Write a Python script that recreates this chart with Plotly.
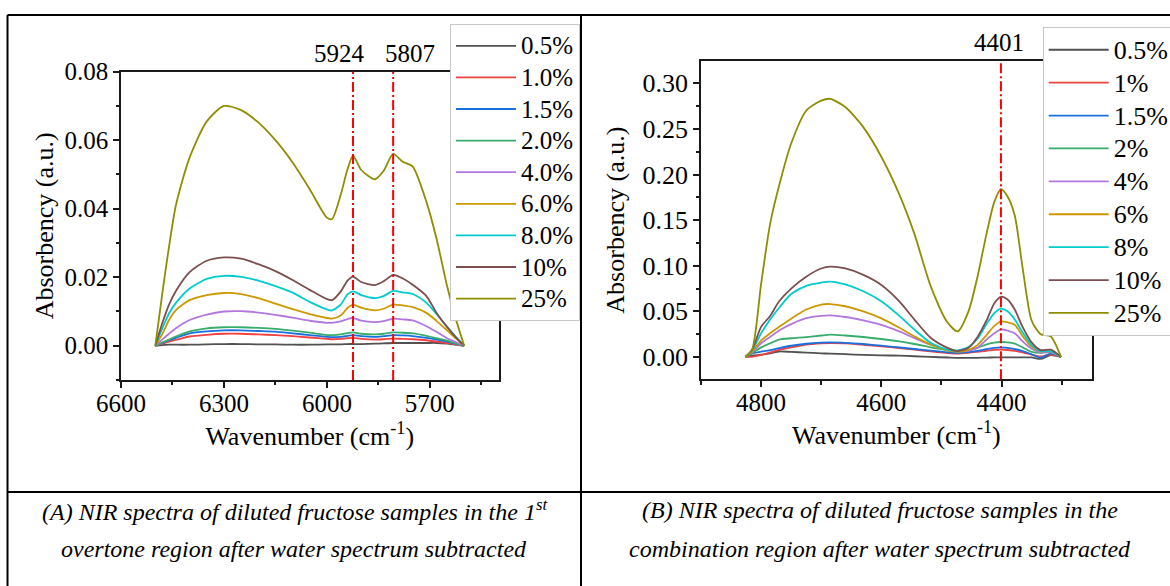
import plotly.graph_objects as go

W, H = 1170, 586
FONT = "Liberation Serif, Times New Roman, serif"

# ---------------- data ----------------
colors = ["#515151", "#F14040", "#1A6FDF", "#37AD6B", "#B177DE",
          "#CC9900", "#00CBCC", "#7D4E4E", "#8E8E00"]

labels_a = ["0.5%", "1.0%", "1.5%", "2.0%", "4.0%", "6.0%", "8.0%", "10%", "25%"]
labels_b = ["0.5%", "1%", "1.5%", "2%", "4%", "6%", "8%", "10%", "25%"]

# Panel A: 1st overtone region
wn_a = [6500, 6480, 6460, 6440, 6400, 6350, 6300, 6250, 6200, 6150, 6100, 6050, 6000,
        5985, 5960, 5940, 5924, 5900, 5860, 5835, 5807, 5780, 5750, 5710, 5680, 5650,
        5625, 5600]
a_05 = [0, 0.0002, 0.0003, 0.0003, 0.0003, 0.0004, 0.0005, 0.0005, 0.0004, 0.0004, 0.0003,
        0.0003, 0.0004, 0.0004, 0.0004, 0.0005, 0.0005, 0.0005, 0.0006, 0.0007, 0.0008,
        0.0008, 0.0008, 0.0008, 0.0008, 0.0006, 0.0003, 0]
a_10 = [0, 0.0006, 0.0012, 0.0017, 0.0027, 0.0032, 0.0035, 0.0035, 0.0033, 0.0031, 0.0028,
        0.0024, 0.0020, 0.0019, 0.0020, 0.0022, 0.0023, 0.0020, 0.0018, 0.0019, 0.0021,
        0.0020, 0.0019, 0.0016, 0.0012, 0.0008, 0.0004, 0]
a_15 = [0, 0.0008, 0.0016, 0.0023, 0.0036, 0.0042, 0.0045, 0.0045, 0.0043, 0.0041, 0.0036,
        0.0031, 0.0026, 0.0025, 0.0026, 0.0029, 0.0031, 0.0028, 0.0026, 0.0028, 0.0031,
        0.0030, 0.0028, 0.0023, 0.0018, 0.0012, 0.0006, 0]
a_20 = [0, 0.0009, 0.0018, 0.0027, 0.0042, 0.0051, 0.0054, 0.0054, 0.0052, 0.0049, 0.0044,
        0.0038, 0.0031, 0.0031, 0.0033, 0.0037, 0.0039, 0.0035, 0.0033, 0.0035, 0.0039,
        0.0038, 0.0036, 0.0029, 0.0022, 0.0015, 0.0007, 0]
a_40 = [0, 0.0018, 0.0035, 0.0051, 0.0075, 0.0091, 0.0100, 0.0101, 0.0097, 0.0090, 0.0082,
        0.0073, 0.0067, 0.0067, 0.0071, 0.0078, 0.0081, 0.0073, 0.0069, 0.0072, 0.0079,
        0.0077, 0.0074, 0.0057, 0.0040, 0.0022, 0.0011, 0]
a_60 = [0, 0.0033, 0.0075, 0.0104, 0.0133, 0.0148, 0.0154, 0.0151, 0.0139, 0.0123, 0.0107,
        0.0092, 0.0081, 0.0079, 0.0088, 0.0110, 0.0120, 0.0111, 0.0103, 0.0108, 0.0120,
        0.0118, 0.0113, 0.0096, 0.0072, 0.0045, 0.0022, 0]
a_80 = [0, 0.0050, 0.0095, 0.0125, 0.0167, 0.0195, 0.0204, 0.0201, 0.0190, 0.0174, 0.0155,
        0.0128, 0.0106, 0.0103, 0.0120, 0.0150, 0.0159, 0.0148, 0.0139, 0.0145, 0.0160,
        0.0156, 0.0151, 0.0125, 0.0092, 0.0055, 0.0027, 0]
a_100 = [0, 0.0065, 0.0120, 0.0160, 0.0215, 0.0248, 0.0258, 0.0254, 0.0238, 0.0218, 0.0192,
         0.0163, 0.0136, 0.0133, 0.0158, 0.0190, 0.0202, 0.0186, 0.0177, 0.0188, 0.0207,
         0.0197, 0.0178, 0.0145, 0.0095, 0.0055, 0.0025, 0]
a_250 = [0, 0.0150, 0.0290, 0.0410, 0.0550, 0.0655, 0.0700, 0.0688, 0.0652, 0.0600, 0.0535,
         0.0457, 0.0374, 0.0370, 0.0440, 0.0515, 0.0555, 0.0513, 0.0486, 0.0510, 0.0560,
         0.0538, 0.0523, 0.0420, 0.0310, 0.0175, 0.0080, 0]
series_a = [a_05, a_10, a_15, a_20, a_40, a_60, a_80, a_100, a_250]

# Panel B: combination region
wn_b = [4826, 4815, 4800, 4785, 4770, 4750, 4725, 4700, 4685, 4660, 4630, 4600, 4570, 4545,
        4518, 4490, 4473, 4455, 4440, 4425, 4412, 4401, 4390, 4378, 4365, 4350, 4335, 4318,
        4301]
b_05 = [0, 0.0015, 0.0025, 0.0040, 0.0060, 0.0055, 0.0048, 0.0040, 0.0036, 0.0030, 0.0022,
        0.0018, 0.0014, 0.0008, 0.0000, -0.0006, -0.0010, -0.0010, -0.0009, -0.0007, -0.0005,
        -0.0004, -0.0004, -0.0004, -0.0004, -0.0005, -0.0022, 0.0020, 0]
b_10 = [0, 0.0002, 0.0022, 0.0050, 0.0078, 0.0104, 0.0135, 0.0150, 0.0153, 0.0148, 0.0132,
        0.0117, 0.0098, 0.0080, 0.0062, 0.0043, 0.0036, 0.0045, 0.0056, 0.0068, 0.0077,
        0.0080, 0.0076, 0.0068, 0.0050, 0.0025, 0.0005, 0.0025, 0]
b_15 = [0, 0.0040, 0.0058, 0.0075, 0.0097, 0.0123, 0.0145, 0.0157, 0.0160, 0.0155, 0.0142,
        0.0124, 0.0104, 0.0087, 0.0069, 0.0051, 0.0045, 0.0052, 0.0066, 0.0085, 0.0099,
        0.0105, 0.0100, 0.0087, 0.0065, 0.0030, -0.0010, 0.0040, 0]
b_20 = [0, 0.0040, 0.0105, 0.0150, 0.0190, 0.0205, 0.0218, 0.0235, 0.0244, 0.0235, 0.0219,
        0.0197, 0.0170, 0.0142, 0.0105, 0.0073, 0.0056, 0.0072, 0.0100, 0.0138, 0.0157,
        0.0164, 0.0160, 0.0146, 0.0105, 0.0055, 0.0045, 0.0055, 0]
b_40 = [0, 0.0050, 0.0150, 0.0220, 0.0290, 0.0360, 0.0425, 0.0450, 0.0455, 0.0438, 0.0401,
        0.0352, 0.0280, 0.0207, 0.0135, 0.0080, 0.0062, 0.0068, 0.0100, 0.0190, 0.0260,
        0.0300, 0.0290, 0.0260, 0.0170, 0.0090, 0.0050, 0.0050, 0]
b_60 = [0, 0.0060, 0.0180, 0.0260, 0.0330, 0.0420, 0.0520, 0.0575, 0.0580, 0.0556, 0.0500,
        0.0423, 0.0320, 0.0226, 0.0135, 0.0073, 0.0058, 0.0078, 0.0130, 0.0240, 0.0340,
        0.0390, 0.0380, 0.0353, 0.0230, 0.0110, 0.0060, 0.0060, 0]
b_80 = [0, 0.0070, 0.0260, 0.0410, 0.0540, 0.0690, 0.0780, 0.0815, 0.0827, 0.0795, 0.0720,
        0.0610, 0.0450, 0.0300, 0.0155, 0.0080, 0.0073, 0.0110, 0.0200, 0.0360, 0.0480,
        0.0530, 0.0500, 0.0410, 0.0270, 0.0130, 0.0065, 0.0060, 0]
b_100 = [0, 0.0080, 0.0330, 0.0450, 0.0610, 0.0750, 0.0880, 0.0970, 0.0990, 0.0970, 0.0900,
         0.0790, 0.0610, 0.0410, 0.0210, 0.0100, 0.0065, 0.0100, 0.0220, 0.0400, 0.0590,
         0.0660, 0.0630, 0.0520, 0.0330, 0.0160, 0.0075, 0.0080, 0]
b_250 = [0, 0.0080, 0.0800, 0.1460, 0.1880, 0.2340, 0.2700, 0.2810, 0.2830, 0.2740, 0.2520,
         0.2195, 0.1780, 0.1350, 0.0780, 0.0380, 0.0280, 0.0500, 0.0880, 0.1350, 0.1700,
         0.1840, 0.1760, 0.1550, 0.0980, 0.0400, 0.0250, 0.0225, 0]
series_b = [b_05, b_10, b_15, b_20, b_40, b_60, b_80, b_100, b_250]

peaks_a = [5924, 5807]
peaks_b = [4401]

xticks_a = [6600, 6300, 6000, 5700]
xminor_a = [6450, 6150, 5850, 5550]
yticks_a = [0.0, 0.02, 0.04, 0.06, 0.08]
yminor_a = [-0.01, 0.01, 0.03, 0.05, 0.07]
xticks_b = [4800, 4600, 4400]
xminor_b = [4900, 4700, 4500, 4300]
yticks_b = [0.0, 0.05, 0.10, 0.15, 0.20, 0.25, 0.30]
yminor_b = [0.025, 0.075, 0.125, 0.175, 0.225, 0.275]

caption_a = ["(A) NIR spectra of diluted fructose samples in the 1<sup>st</sup>",
             "overtone region after water spectrum subtracted"]
caption_b = ["(B) NIR spectra of diluted fructose samples in the",
             "combination region after water spectrum subtracted"]

# ---------------- helpers ----------------
def fx(px):
    return px / W

def fy(py):
    return 1 - py / H

fig = go.Figure()

for lab, col, ys in zip(labels_a, colors, series_a):
    fig.add_trace(go.Scatter(
        x=wn_a, y=ys, mode="lines", xaxis="x", yaxis="y", legend="legend",
        name=f"<span style='font-size:25px'>{lab}</span>",
        line=dict(color=col, width=1.8, shape="spline", smoothing=0.7)))

for lab, col, ys in zip(labels_b, colors, series_b):
    fig.add_trace(go.Scatter(
        x=wn_b, y=ys, mode="lines", xaxis="x2", yaxis="y2", legend="legend2",
        name=f"<span style='font-size:26px'>{lab}</span>",
        line=dict(color=col, width=1.8, shape="spline", smoothing=0.7)))

axis_common = dict(showgrid=False, zeroline=False, showline=True, linecolor="#1a1a1a",
                   linewidth=1.5, mirror=True, ticks="outside", tickcolor="#1a1a1a",
                   tickwidth=1.5, ticklen=6, tickfont=dict(family=FONT, size=25, color="black"))

def xaxis(domain, rng, tv, mv, anchor):
    d = dict(axis_common)
    d.update(domain=domain, range=rng, tickmode="array", tickvals=tv, anchor=anchor,
             ticktext=[str(v) for v in tv], ticklabelstandoff=-6,
             minor=dict(tickmode="array", tickvals=mv, ticks="outside", ticklen=3.5,
                        tickwidth=1.5, tickcolor="#1a1a1a"),
             title=dict(text="Wavenumber (cm<sup>-1</sup>)",
                        font=dict(family=FONT, size=26, color="black"), standoff=11))
    return d

def yaxis(domain, rng, tv, mv, anchor, size, standoff):
    d = dict(axis_common)
    d.update(domain=domain, range=rng, tickmode="array", tickvals=tv, anchor=anchor,
             ticktext=[f"{v:.2f}" for v in tv],
             tickfont=dict(family=FONT, size=size, color="black"),
             minor=dict(tickmode="array", tickvals=mv, ticks="outside", ticklen=3,
                        tickwidth=1.5, tickcolor="#1a1a1a"),
             title=dict(text="Absorbency (a.u.)",
                        font=dict(family=FONT, size=26, color="black"), standoff=standoff))
    return d

legend_common = dict(bgcolor="white", bordercolor="#c8c8c8", borderwidth=1,
                     xanchor="left", yanchor="top", itemwidth=60, tracegroupgap=0)

shapes = []
for p in peaks_a:
    shapes.append(dict(type="line", xref="x", yref="y domain", x0=p, x1=p, y0=0, y1=1,
                       line=dict(color="#ff0000", width=2, dash="10px,3px,2px,3px")))
for p in peaks_b:
    shapes.append(dict(type="line", xref="x2", yref="y2 domain", x0=p, x1=p, y0=0, y1=1,
                       line=dict(color="#ff0000", width=2, dash="10px,3px,2px,3px")))

# table borders
border = dict(color="black", width=2)
shapes += [
    dict(type="line", xref="paper", yref="paper", x0=fx(7.5), x1=1, y0=fy(15), y1=fy(15), line=border),
    dict(type="line", xref="paper", yref="paper", x0=fx(7.5), x1=fx(7.5), y0=fy(15), y1=0, line=border),
    dict(type="line", xref="paper", yref="paper", x0=fx(581), x1=fx(581), y0=fy(15), y1=0, line=border),
    dict(type="line", xref="paper", yref="paper", x0=fx(7.5), x1=1, y0=fy(492), y1=fy(492), line=border),
]

annotations = []
for p, sh in zip(peaks_a, [-13, 17]):
    annotations.append(dict(x=p, y=fy(53), xref="x", yref="paper", text=str(p), showarrow=False,
                            xshift=sh, font=dict(family=FONT, size=25, color="black"),
                            xanchor="center", yanchor="middle"))
for p in peaks_b:
    annotations.append(dict(x=p, y=fy(43), xref="x2", yref="paper", text=str(p), showarrow=False,
                            xshift=-2, font=dict(family=FONT, size=25, color="black"),
                            xanchor="center", yanchor="middle"))
cap_font = dict(family=FONT, size=24, color="black", style="italic")
for txt, cy in zip(caption_a, [510, 549]):
    annotations.append(dict(x=fx(294), y=fy(cy), xref="paper", yref="paper", text=txt,
                            showarrow=False, font=cap_font, xanchor="center", yanchor="middle"))
for txt, cy in zip(caption_b, [510, 549]):
    annotations.append(dict(x=fx(880), y=fy(cy), xref="paper", yref="paper", text=txt,
                            showarrow=False, font=cap_font, xanchor="center", yanchor="middle"))

fig.update_layout(
    width=W, height=H,
    margin=dict(l=0, r=0, t=0, b=0, autoexpand=False),
    paper_bgcolor="white", plot_bgcolor="white",
    showlegend=True,
    xaxis=xaxis([fx(121), fx(498.5)], [6600, 5500], xticks_a, xminor_a, "y"),
    yaxis=yaxis([fy(380), fy(71.7)], [-0.01, 0.08], yticks_a, yminor_a, "x", 25, 3),
    xaxis2=xaxis([fx(701), fx(1091.7)], [4900, 4250], xticks_b, xminor_b, "y2"),
    yaxis2=yaxis([fy(379.3), fy(61)], [-0.0245, 0.3245], yticks_b, yminor_b, "x2", 26, 10),
    legend=dict(legend_common, x=fx(450), y=fy(24), font=dict(family=FONT, size=22, color="black")),
    legend2=dict(legend_common, x=fx(1042.7), y=fy(27.3), font=dict(family=FONT, size=23, color="black")),
    shapes=shapes,
    annotations=annotations,
)

fig.write_html("out.html")
